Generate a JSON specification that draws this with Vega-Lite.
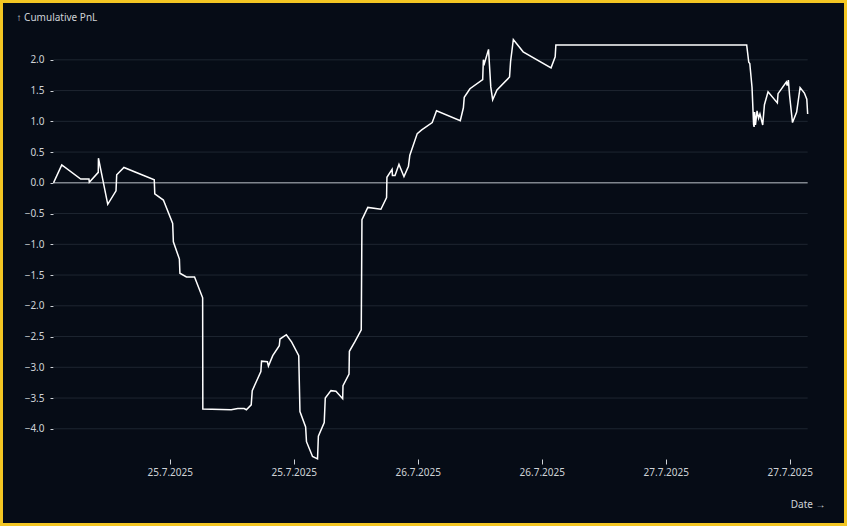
{
  "$schema": "https://vega.github.io/schema/vega-lite/v6.json",
  "width": 841,
  "height": 520,
  "padding": 3,
  "autosize": {"type": "none"},
  "background": "#f3c623",
  "resolve": {"axis": {"x": "independent", "y": "independent"}},
  "config": {
    "view": {"fill": "#060c16", "stroke": null},
    "font": "Noto Sans",
    "axis": {
      "labelFont": "Noto Sans",
      "labelFontSize": 10,
      "labelColor": "#cfd3d8",
      "tickColor": "#cfd3d8",
      "titleFont": "Noto Sans",
      "titleFontSize": 10,
      "titleFontWeight": "normal",
      "titleColor": "#cfd3d8"
    }
  },
  "layer": [
    {
      "data": {"values": [{"v": -4}, {"v": -3.5}, {"v": -3}, {"v": -2.5}, {"v": -2}, {"v": -1.5}, {"v": -1}, {"v": -0.5}, {"v": 0.5}, {"v": 1}, {"v": 1.5}, {"v": 2}]},
      "mark": {"type": "rule", "stroke": "#1e2631", "strokeWidth": 1},
      "encoding": {
        "y": {"field": "v", "type": "quantitative", "axis": null, "scale": {"domain": [-5.532, 2.924], "nice": false, "zero": false}},
        "x": {"datum": {"year": 2025, "month": 7, "date": 24, "hours": 12, "minutes": 45, "utc": true}, "type": "temporal", "axis": null, "scale": {"type": "utc", "domain": [{"year": 2025, "month": 7, "date": 24, "hours": 7, "minutes": 51, "seconds": 47, "utc": true}, {"year": 2025, "month": 7, "date": 27, "hours": 17, "minutes": 15, "utc": true}], "nice": false}},
        "x2": {"datum": {"year": 2025, "month": 7, "date": 27, "hours": 13, "minutes": 44, "utc": true}}
      }
    },
    {
      "data": {"values": [{"v": 0}]},
      "mark": {"type": "rule", "stroke": "#80868e", "strokeWidth": 1.5},
      "encoding": {
        "y": {"field": "v", "type": "quantitative", "axis": null, "scale": {"domain": [-5.532, 2.924], "nice": false, "zero": false}},
        "x": {"datum": {"year": 2025, "month": 7, "date": 24, "hours": 12, "minutes": 45, "utc": true}, "type": "temporal", "axis": null, "scale": {"type": "utc", "domain": [{"year": 2025, "month": 7, "date": 24, "hours": 7, "minutes": 51, "seconds": 47, "utc": true}, {"year": 2025, "month": 7, "date": 27, "hours": 17, "minutes": 15, "utc": true}], "nice": false}},
        "x2": {"datum": {"year": 2025, "month": 7, "date": 27, "hours": 13, "minutes": 44, "utc": true}}
      }
    },
    {
      "data": {"values": [
        {"date": "2025-07-24T12:45:00Z", "pnl": 0.00},
        {"date": "2025-07-24T13:33:00Z", "pnl": 0.29},
        {"date": "2025-07-24T15:23:00Z", "pnl": 0.06},
        {"date": "2025-07-24T16:11:00Z", "pnl": 0.06},
        {"date": "2025-07-24T16:13:00Z", "pnl": 0.01},
        {"date": "2025-07-24T17:05:00Z", "pnl": 0.17},
        {"date": "2025-07-24T17:06:00Z", "pnl": 0.40},
        {"date": "2025-07-24T18:00:00Z", "pnl": -0.35},
        {"date": "2025-07-24T18:48:00Z", "pnl": -0.13},
        {"date": "2025-07-24T18:52:00Z", "pnl": 0.13},
        {"date": "2025-07-24T19:34:00Z", "pnl": 0.25},
        {"date": "2025-07-24T22:30:00Z", "pnl": 0.05},
        {"date": "2025-07-24T22:33:00Z", "pnl": -0.18},
        {"date": "2025-07-24T23:23:00Z", "pnl": -0.28},
        {"date": "2025-07-25T00:17:00Z", "pnl": -0.66},
        {"date": "2025-07-25T00:21:00Z", "pnl": -0.96},
        {"date": "2025-07-25T00:56:00Z", "pnl": -1.24},
        {"date": "2025-07-25T00:59:00Z", "pnl": -1.47},
        {"date": "2025-07-25T01:37:00Z", "pnl": -1.53},
        {"date": "2025-07-25T02:24:00Z", "pnl": -1.53},
        {"date": "2025-07-25T03:11:00Z", "pnl": -1.87},
        {"date": "2025-07-25T03:12:00Z", "pnl": -3.68},
        {"date": "2025-07-25T05:57:00Z", "pnl": -3.69},
        {"date": "2025-07-25T06:35:00Z", "pnl": -3.67},
        {"date": "2025-07-25T07:12:00Z", "pnl": -3.67},
        {"date": "2025-07-25T07:25:00Z", "pnl": -3.69},
        {"date": "2025-07-25T07:53:00Z", "pnl": -3.61},
        {"date": "2025-07-25T07:59:00Z", "pnl": -3.38},
        {"date": "2025-07-25T08:49:00Z", "pnl": -3.07},
        {"date": "2025-07-25T08:53:00Z", "pnl": -2.90},
        {"date": "2025-07-25T09:27:00Z", "pnl": -2.91},
        {"date": "2025-07-25T09:33:00Z", "pnl": -2.98},
        {"date": "2025-07-25T09:58:00Z", "pnl": -2.81},
        {"date": "2025-07-25T10:36:00Z", "pnl": -2.65},
        {"date": "2025-07-25T10:40:00Z", "pnl": -2.54},
        {"date": "2025-07-25T11:17:00Z", "pnl": -2.47},
        {"date": "2025-07-25T11:48:00Z", "pnl": -2.59},
        {"date": "2025-07-25T12:29:00Z", "pnl": -2.81},
        {"date": "2025-07-25T12:36:00Z", "pnl": -3.72},
        {"date": "2025-07-25T13:09:00Z", "pnl": -3.97},
        {"date": "2025-07-25T13:14:00Z", "pnl": -4.21},
        {"date": "2025-07-25T13:49:00Z", "pnl": -4.45},
        {"date": "2025-07-25T14:18:00Z", "pnl": -4.49},
        {"date": "2025-07-25T14:23:00Z", "pnl": -4.12},
        {"date": "2025-07-25T14:57:00Z", "pnl": -3.90},
        {"date": "2025-07-25T15:03:00Z", "pnl": -3.50},
        {"date": "2025-07-25T15:36:00Z", "pnl": -3.38},
        {"date": "2025-07-25T16:05:00Z", "pnl": -3.39},
        {"date": "2025-07-25T16:44:00Z", "pnl": -3.51},
        {"date": "2025-07-25T16:46:00Z", "pnl": -3.30},
        {"date": "2025-07-25T17:21:00Z", "pnl": -3.11},
        {"date": "2025-07-25T17:23:00Z", "pnl": -2.74},
        {"date": "2025-07-25T17:56:00Z", "pnl": -2.58},
        {"date": "2025-07-25T18:32:00Z", "pnl": -2.39},
        {"date": "2025-07-25T18:36:00Z", "pnl": -0.60},
        {"date": "2025-07-25T19:10:00Z", "pnl": -0.40},
        {"date": "2025-07-25T20:26:00Z", "pnl": -0.43},
        {"date": "2025-07-25T20:59:00Z", "pnl": -0.24},
        {"date": "2025-07-25T21:01:00Z", "pnl": 0.09},
        {"date": "2025-07-25T21:31:00Z", "pnl": 0.22},
        {"date": "2025-07-25T21:33:00Z", "pnl": 0.12},
        {"date": "2025-07-25T21:48:00Z", "pnl": 0.12},
        {"date": "2025-07-25T22:11:00Z", "pnl": 0.30},
        {"date": "2025-07-25T22:40:00Z", "pnl": 0.10},
        {"date": "2025-07-25T23:06:00Z", "pnl": 0.27},
        {"date": "2025-07-25T23:14:00Z", "pnl": 0.45},
        {"date": "2025-07-25T23:57:00Z", "pnl": 0.80},
        {"date": "2025-07-26T00:23:00Z", "pnl": 0.86},
        {"date": "2025-07-26T01:24:00Z", "pnl": 0.98},
        {"date": "2025-07-26T01:49:00Z", "pnl": 1.17},
        {"date": "2025-07-26T04:07:00Z", "pnl": 1.01},
        {"date": "2025-07-26T04:25:00Z", "pnl": 1.22},
        {"date": "2025-07-26T04:30:00Z", "pnl": 1.39},
        {"date": "2025-07-26T05:03:00Z", "pnl": 1.53},
        {"date": "2025-07-26T06:17:00Z", "pnl": 1.68},
        {"date": "2025-07-26T06:21:00Z", "pnl": 2.00},
        {"date": "2025-07-26T06:27:00Z", "pnl": 1.94},
        {"date": "2025-07-26T06:51:00Z", "pnl": 2.17},
        {"date": "2025-07-26T07:04:00Z", "pnl": 1.56},
        {"date": "2025-07-26T07:15:00Z", "pnl": 1.35},
        {"date": "2025-07-26T07:40:00Z", "pnl": 1.51},
        {"date": "2025-07-26T08:53:00Z", "pnl": 1.72},
        {"date": "2025-07-26T08:59:00Z", "pnl": 1.97},
        {"date": "2025-07-26T09:15:00Z", "pnl": 2.33},
        {"date": "2025-07-26T10:12:00Z", "pnl": 2.13},
        {"date": "2025-07-26T12:54:00Z", "pnl": 1.87},
        {"date": "2025-07-26T13:18:00Z", "pnl": 2.05},
        {"date": "2025-07-26T13:22:00Z", "pnl": 2.24},
        {"date": "2025-07-27T07:50:00Z", "pnl": 2.24},
        {"date": "2025-07-27T08:02:00Z", "pnl": 1.96},
        {"date": "2025-07-27T08:08:00Z", "pnl": 1.94},
        {"date": "2025-07-27T08:21:00Z", "pnl": 1.55},
        {"date": "2025-07-27T08:30:00Z", "pnl": 0.95},
        {"date": "2025-07-27T08:33:00Z", "pnl": 0.91},
        {"date": "2025-07-27T08:36:00Z", "pnl": 1.15},
        {"date": "2025-07-27T08:41:00Z", "pnl": 0.94},
        {"date": "2025-07-27T08:50:00Z", "pnl": 1.17},
        {"date": "2025-07-27T08:59:00Z", "pnl": 1.05},
        {"date": "2025-07-27T09:07:00Z", "pnl": 1.12},
        {"date": "2025-07-27T09:23:00Z", "pnl": 0.94},
        {"date": "2025-07-27T09:33:00Z", "pnl": 1.27},
        {"date": "2025-07-27T09:54:00Z", "pnl": 1.48},
        {"date": "2025-07-27T10:48:00Z", "pnl": 1.30},
        {"date": "2025-07-27T10:52:00Z", "pnl": 1.45},
        {"date": "2025-07-27T11:40:00Z", "pnl": 1.64},
        {"date": "2025-07-27T11:45:00Z", "pnl": 1.58},
        {"date": "2025-07-27T11:52:00Z", "pnl": 1.67},
        {"date": "2025-07-27T11:59:00Z", "pnl": 1.42},
        {"date": "2025-07-27T12:16:00Z", "pnl": 0.98},
        {"date": "2025-07-27T12:40:00Z", "pnl": 1.15},
        {"date": "2025-07-27T12:50:00Z", "pnl": 1.35},
        {"date": "2025-07-27T13:00:00Z", "pnl": 1.55},
        {"date": "2025-07-27T13:25:00Z", "pnl": 1.46},
        {"date": "2025-07-27T13:39:00Z", "pnl": 1.36},
        {"date": "2025-07-27T13:44:00Z", "pnl": 1.12}
      ]},
      "mark": {"type": "line", "stroke": "#ffffff", "strokeWidth": 1.5},
      "encoding": {
        "x": {
          "field": "date",
          "type": "temporal",
          "scale": {"type": "utc", "domain": [{"year": 2025, "month": 7, "date": 24, "hours": 7, "minutes": 51, "seconds": 47, "utc": true}, {"year": 2025, "month": 7, "date": 27, "hours": 17, "minutes": 15, "utc": true}], "nice": false},
          "axis": {
            "values": [
              {"year": 2025, "month": 7, "date": 25, "hours": 0, "utc": true},
              {"year": 2025, "month": 7, "date": 25, "hours": 12, "utc": true},
              {"year": 2025, "month": 7, "date": 26, "hours": 0, "utc": true},
              {"year": 2025, "month": 7, "date": 26, "hours": 12, "utc": true},
              {"year": 2025, "month": 7, "date": 27, "hours": 0, "utc": true},
              {"year": 2025, "month": 7, "date": 27, "hours": 12, "utc": true}
            ],
            "labelExpr": "utcFormat(datum.value, '%-d.%-m.%Y')",
            "domain": false,
            "grid": false,
            "offset": -64,
            "tickSize": 5,
            "labelPadding": 3,
            "labelAngle": 0,
            "labelFlush": false,
            "labelOverlap": false,
            "title": "Date →",
            "titleAlign": "right",
            "titleBaseline": "alphabetic",
            "titleX": 822,
            "titleY": 48
          }
        },
        "y": {
          "field": "pnl",
          "type": "quantitative",
          "scale": {"domain": [-5.532, 2.924], "nice": false, "zero": false},
          "axis": {
            "values": [-4, -3.5, -3, -2.5, -2, -1.5, -1, -0.5, 0, 0.5, 1, 1.5, 2],
            "format": ".1f",
            "domain": false,
            "grid": false,
            "offset": -50,
            "tickSize": 3,
            "labelPadding": 6,
            "labelOverlap": false,
            "title": "↑ Cumulative PnL",
            "titleAngle": 0,
            "titleAlign": "left",
            "titleBaseline": "alphabetic",
            "titleX": -37,
            "titleY": 17.5
          }
        }
      }
    }
  ]
}
